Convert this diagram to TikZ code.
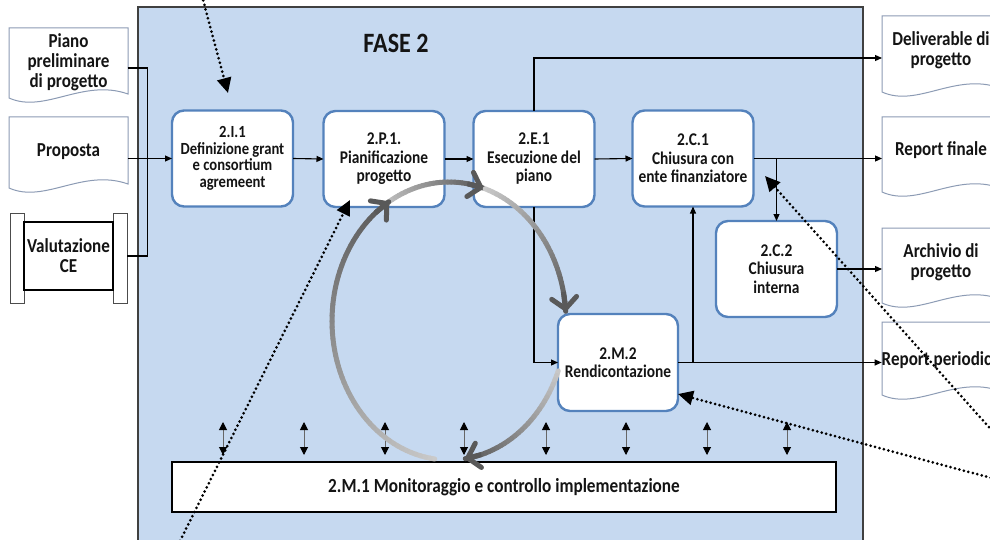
\documentclass[tikz,border=0pt]{standalone}
\usepackage{fontspec}
\setmainfont{Carlito}[FakeStretch=0.86]
\usetikzlibrary{arrows.meta,calc}
\definecolor{bgblue}{RGB}{198,217,240}
\definecolor{nodeblue}{RGB}{84,130,188}
\definecolor{docline}{RGB}{140,155,180}
\definecolor{txt}{RGB}{20,20,20}

\newcommand\docshape[4]{%
  \pgfmathsetmacro\docW{#3-#1}%
  \draw[docbox] (#1,#2) -- (#3,#2) -- (#3,#4-4)
    .. controls ({#1+0.62*\docW},{#4-20}) and ({#1+0.3*\docW},{#4+16}) .. (#1,#4) -- cycle;
}
\newcommand\gradarc[3]{%
  \foreach \gi in {1,...,#3}{%
    \pgfmathsetmacro\arA{#1+(#2-#1)*(\gi-1)/#3}%
    \pgfmathsetmacro\arB{#1+(#2-#1)*\gi/#3}%
    \pgfmathsetmacro\grv{20+45*\gi/#3}%
    \draw[line width=5pt, line cap=round, draw=black!\grv]
      ({449+117*cos(\arA)},{321-139*sin(\arA)}) -- ({449+117*cos(\arB)},{321-139*sin(\arB)});
  }%
  \pgfmathsetmacro\arC{#2+8}%
  \draw[line width=5pt, draw=black!65, -{Straight Barb[length=11pt,width=25pt,round]}]
    ({449+117*cos(\arC)},{321-139*sin(\arC)}) -- ({449+117*cos(#2)},{321-139*sin(#2)});
}

\begin{document}
\begin{tikzpicture}[x=1pt,y=-1pt,
  proc/.style={draw=nodeblue, line width=2.4pt, fill=white, rounded corners=12pt,
    minimum width=121pt, minimum height=96pt, inner sep=0pt, outer sep=0pt,
    align=center, font=\fontsize{17.9}{18.5}\selectfont\bfseries, text=txt},
  doctext/.style={inner sep=0pt, outer sep=0pt, minimum width=118pt, align=center,
    font=\fontsize{19.8}{20}\selectfont\bfseries, text=txt},
  docbox/.style={draw=docline, line width=1pt, fill=white},
  conn/.style={line width=1.1pt, -{Triangle[length=7pt,width=6pt]}},
  plain/.style={line width=1.1pt},
  dbl/.style={line width=1pt, draw=black!60,
    {Triangle[length=8pt,width=8pt,color=black]}-{Triangle[length=8pt,width=8pt,color=black]}},
  dots/.style={line width=3pt, dash pattern=on 0pt off 4.6pt, line cap=round,
    -{Triangle[length=15pt,width=14pt]}}
]
\useasboundingbox (0,0) rectangle (990,540);
\clip (0,0) rectangle (990,540);
\fill[white] (0,0) rectangle (990,540);

% phase background
\draw[fill=bgblue, draw=black!75, line width=1.1pt] (138,7) rectangle (863,560);
\node[font=\fontsize{28}{28}\selectfont\bfseries, text=txt] (fase) at (396,43) {FASE 2};

% left inputs
\docshape{9}{28}{128}{98}
\node[doctext] (piano) at (68.5,62) {Piano\\preliminare\\di progetto};
\docshape{9}{117}{128}{188}
\node[doctext] (prop) at (68.5,152) {Proposta};
\draw[docbox, draw=black!70] (10,213) rectangle (24,303);
\draw[docbox, draw=black!70] (113,213) rectangle (127,303);
\node[draw=black, line width=1.8pt, fill=white, minimum width=89pt, minimum height=68pt,
  inner sep=0pt, outer sep=0pt, align=center, font=\fontsize{19.8}{20}\selectfont\bfseries, text=txt]
  (valut) at (68.5,256) {Valutazione\\CE};

% right outputs
\docshape{882}{16}{1000}{92}
\node[doctext] (deliv) at (941,50) {Deliverable di\\progetto};
\docshape{882}{117}{1000}{192}
\node[doctext] (rfin) at (941,150) {Report finale};
\docshape{882}{228}{1000}{303}
\node[doctext] (arch) at (941,262) {Archivio di\\progetto};
\docshape{882}{322}{1000}{395}
\node[doctext] (rper) at (941,360) {Report periodico};

% process nodes
\node[proc, font=\fontsize{17}{16.5}\selectfont\bfseries] (I1) at (232.5,158.5) {2.I.1\\Definizione grant\\e consortium\\agremeent};
\node[proc] (P1) at (384,159) {2.P.1.\\Pianificazione\\progetto};
\node[proc] (E1) at (534,159) {2.E.1\\Esecuzione del\\piano};
\node[proc] (C1) at (693,158.5) {2.C.1\\Chiusura con\\ente finanziatore};
\node[proc] (C2) at (776.5,269) {2.C.2\\Chiusura\\interna};
\node[proc, minimum width=120pt, minimum height=97pt] (M2) at (618,362.5) {2.M.2\\Rendicontazione};
\node[draw=black, line width=1.1pt, fill=white, minimum width=664pt, minimum height=50pt,
  inner sep=0pt, outer sep=0pt, font=\fontsize{20}{20}\selectfont\bfseries, text=txt]
  (M1) at (504,487) {2.M.1 Monitoraggio e controllo implementazione};

% connectors
\draw[plain] ([yshift=-6pt]piano.east) -- ++(20,0) |- ([xshift=14pt]valut.east);
\draw[conn] (prop.east |- I1.west) -- (I1.west);
\draw[conn] (I1.east) -- (P1.west);
\draw[conn] (P1.east) -- (E1.west);
\draw[conn] (E1.east) -- (C1.west);
\draw[conn] (E1.north) |- ([yshift=-8pt]deliv.west);
\draw[conn] (E1.south) |- (M2.west);
\draw[conn] (C1.east) -- (C1.east -| rfin.west);
\draw[conn] (C2.north |- C1.east) -- (C2.north);
\draw[conn] (C2.east) -- (C2.east -| arch.west);
\draw[conn] (M2.east) -- (M2.east -| rper.west);
\draw[conn] (C1.south |- M2.east) -- (C1.south);

% double arrows to monitoring bar
\path (M1.north) ++(0,-7) coordinate (mtop);
\foreach \xx in {223,304,385,464,546,626,707,787}{
  \draw[dbl] (\xx,0 |- mtop) -- ++(0,-33);
}

% cycle
\gradarc{126}{73}{30}
\gradarc{72}{4}{34}
\gradarc{-21}{-82}{30}
\gradarc{263}{121}{60}

% dotted pointers
\coordinate (dA0) at (202,-4);   \coordinate (dA1) at (228,93);
\coordinate (dB0) at (178,545);  \coordinate (dB1) at (350,200);
\coordinate (dC0) at (995,479);  \coordinate (dC1) at (678,394);
\coordinate (dD0) at (995,434);  \coordinate (dD1) at (765,176);
\draw[dots] (dA0) -- (dA1);
\draw[dots] (dB0) -- (dB1);
\draw[dots] (dC0) -- (dC1);
\draw[dots] (dD0) -- (dD1);
\end{tikzpicture}
\end{document}
